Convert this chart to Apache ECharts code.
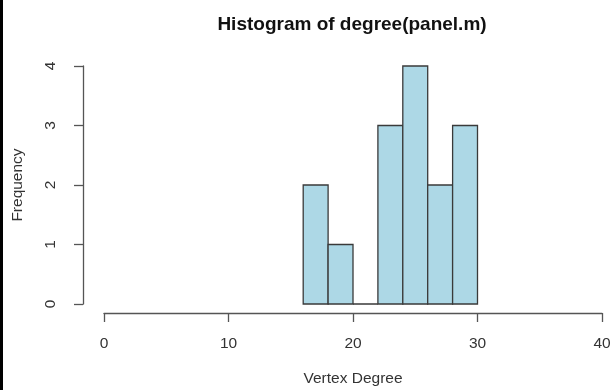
<!DOCTYPE html>
<html>
<head>
<meta charset="utf-8">
<script src="https://cdn.jsdelivr.net/npm/echarts@6/dist/echarts.min.js"></script>
<style>html,body{margin:0;padding:0;background:#fff}#c{width:611px;height:390px}</style>
</head>
<body>
<div id="c"></div>
<script>
var binStarts = [16, 18, 20, 22, 24, 26, 28];
var binEnds   = [18, 20, 22, 24, 26, 28, 30];
var counts    = [2, 1, 0, 3, 4, 2, 3];
var xTicks = [0, 10, 20, 30, 40];
var yTicks = [0, 1, 2, 3, 4];

var data = binStarts.map(function (s, i) { return [s, binEnds[i], counts[i]]; });
var font = 'Liberation Sans, Arial, sans-serif';
var chart = echarts.init(document.getElementById('c'), null, {renderer: 'canvas'});
chart.setOption({
  animation: false,
  backgroundColor: '#fff',
  title: {
    text: 'Histogram of degree(panel.m)',
    left: 347, top: 10, textAlign: 'center',
    textStyle: {fontFamily: font, fontSize: 19, fontWeight: 'bold', color: '#111'}
  },
  graphic: [{type: 'rect', shape: {x: 0, y: 0, width: 3, height: 390}, style: {fill: '#000'}}],
  grid: {left: 104, right: 9, top: 66, bottom: 86, containLabel: false, outerBoundsMode: 'none'},
  xAxis: {
    type: 'value', min: xTicks[0], max: xTicks[xTicks.length - 1], interval: 10,
    offset: 9,
    name: 'Vertex Degree', nameLocation: 'middle', nameGap: 58,
    nameTextStyle: {fontFamily: font, fontSize: 15.5, color: '#333'},
    axisLine: {show: true, onZero: false, lineStyle: {color: '#555', width: 1.3}},
    axisTick: {show: true, length: 9, lineStyle: {color: '#555', width: 1.3}},
    axisLabel: {fontFamily: font, fontSize: 15.5, color: '#333', margin: 23},
    splitLine: {show: false}
  },
  yAxis: {
    type: 'value', min: yTicks[0], max: yTicks[yTicks.length - 1], interval: 1,
    offset: 21,
    name: 'Frequency', nameLocation: 'middle', nameGap: 57,
    nameTextStyle: {fontFamily: font, fontSize: 15.5, color: '#333'},
    axisLine: {show: true, onZero: false, lineStyle: {color: '#555', width: 1.3}},
    axisTick: {show: true, length: 9, lineStyle: {color: '#555', width: 1.3}},
    axisLabel: {fontFamily: font, fontSize: 15.5, color: '#333', margin: 24, rotate: 90},
    splitLine: {show: false}
  },
  series: [{
    type: 'custom',
    data: data,
    renderItem: function (params, api) {
      var p0 = api.coord([api.value(0), api.value(2)]);
      var p1 = api.coord([api.value(1), 0]);
      return {
        type: 'rect',
        shape: {x: p0[0], y: p0[1], width: p1[0] - p0[0], height: p1[1] - p0[1]},
        style: {fill: '#add8e6', stroke: '#3a3a3a', lineWidth: 1.3}
      };
    }
  }]
});
</script>
</body>
</html>
